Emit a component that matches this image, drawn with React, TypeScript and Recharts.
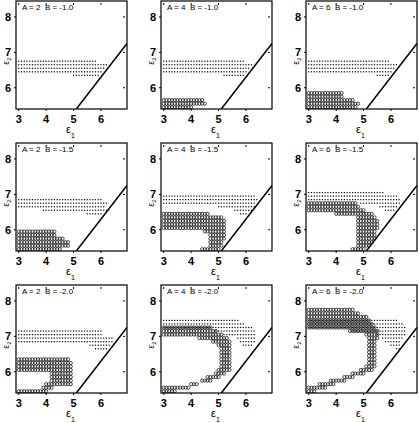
import React from 'react';
import { ScatterChart, Scatter, XAxis, YAxis } from 'recharts';

// tick values and panel parameters
const xTicks = [3, 4, 5, 6];
const yTicks = [6, 7, 8];
const aValues = [2, 4, 6];
const bValues = ['-1.0', '-1.5', '-2.0'];

// boundary line eps2 = eps1 + 0.3
const lineX = [5.1, 6.95];
const lineY = [5.4, 7.25];

// runs on the 0.1 grid: [eps2, first eps1, last eps1]
const dotsA2B10 = [[6.75, 3.0, 5.8], [6.65, 3.0, 6.2], [6.55, 3.0, 6.1], [6.45, 3.0, 6.0], [6.35, 5.0, 5.9]];
const circA2B10: number[][] = [];
const dotsA4B10 = [[6.75, 3.0, 5.9], [6.65, 3.0, 6.2], [6.55, 3.0, 6.1], [6.45, 3.0, 6.0], [6.35, 5.2, 5.9]];
const circA4B10 = [[5.65, 3.0, 4.4], [5.55, 3.0, 4.5], [5.45, 3.0, 4.0]];
const dotsA6B10 = [[6.75, 3.0, 5.9], [6.65, 3.0, 6.2], [6.55, 3.0, 6.1], [6.45, 3.0, 6.0], [6.35, 5.5, 5.9]];
const circA6B10 = [[5.85, 3.0, 4.2], [5.75, 3.0, 4.2], [5.65, 3.0, 4.6], [5.55, 3.0, 4.8], [5.45, 3.0, 4.7]];

const dotsA2B15 = [[6.85, 3.0, 6.0], [6.75, 3.0, 6.2], [6.65, 3.0, 6.1], [6.55, 3.9, 6.2], [6.45, 5.5, 6.0]];
const circA2B15 = [[5.95, 3.0, 4.3], [5.85, 3.0, 4.3], [5.75, 3.0, 4.6], [5.65, 3.0, 4.8], [5.55, 3.0, 4.8], [5.45, 3.0, 4.5]];
const dotsA4B15 = [[6.95, 3.0, 6.3], [6.85, 3.0, 6.4], [6.75, 3.0, 6.3], [6.65, 5.0, 6.3], [6.55, 5.6, 6.2], [6.45, 5.8, 6.0]];
const circA4B15 = [
  [6.45, 3.0, 4.6], [6.35, 3.0, 5.1], [6.25, 3.0, 5.2], [6.15, 3.0, 5.2], [6.05, 3.0, 5.2], [5.95, 4.5, 5.2],
  [5.85, 4.7, 5.2], [5.75, 4.7, 5.2], [5.65, 4.7, 5.1], [5.55, 4.7, 5.1], [5.45, 4.4, 5.0],
];
const dotsA6B15 = [[7.05, 3.0, 5.7], [6.95, 3.0, 6.2], [6.85, 3.0, 6.3], [6.75, 4.9, 6.3], [6.65, 5.6, 6.2], [6.55, 5.8, 6.1]];
const circA6B15 = [
  [6.75, 3.0, 4.7], [6.65, 3.0, 4.8], [6.55, 3.0, 5.0], [6.45, 4.0, 5.3], [6.35, 4.8, 5.4], [6.25, 4.8, 5.5],
  [6.15, 4.8, 5.5], [6.05, 4.8, 5.5], [5.95, 4.8, 5.4], [5.85, 4.8, 5.4], [5.75, 4.8, 5.4], [5.65, 4.8, 5.3],
  [5.55, 4.8, 5.2], [5.45, 4.6, 5.0],
];

const dotsA2B20 = [[7.15, 3.0, 6.0], [7.05, 3.0, 6.0], [6.95, 3.0, 6.4], [6.85, 3.0, 6.4], [6.75, 5.6, 6.3], [6.65, 5.8, 6.2]];
const circA2B20 = [
  [6.35, 3.0, 4.8], [6.25, 3.0, 4.9], [6.15, 3.0, 4.9], [6.05, 3.0, 4.9], [5.95, 4.2, 4.9], [5.85, 4.2, 4.9],
  [5.75, 4.2, 4.9], [5.65, 4.0, 4.9], [5.55, 3.9, 4.2], [5.45, 3.0, 4.0],
];
const dotsA4B20 = [
  [7.45, 3.0, 5.7], [7.35, 3.0, 5.9], [7.25, 3.0, 6.2], [7.15, 4.9, 6.3], [7.05, 5.2, 6.3], [6.95, 5.7, 6.3],
  [6.85, 5.8, 6.3], [6.75, 5.9, 6.2],
];
const circA4B20 = [
  [7.25, 3.0, 4.7], [7.15, 3.0, 4.9], [7.05, 3.0, 5.1], [6.95, 4.3, 5.3], [6.85, 4.8, 5.4], [6.75, 5.0, 5.4],
  [6.65, 5.1, 5.4], [6.55, 5.1, 5.4], [6.45, 5.1, 5.4], [6.35, 5.1, 5.4], [6.25, 5.1, 5.4], [6.15, 5.1, 5.4],
  [6.05, 5.0, 5.4], [5.95, 4.9, 5.2], [5.85, 4.6, 5.0], [5.75, 4.4, 4.7], [5.65, 4.0, 4.2], [5.55, 3.0, 3.9],
  [5.45, 3.0, 3.4],
];
const dotsA6B20 = [
  [7.45, 3.0, 6.2], [7.35, 3.0, 6.4], [7.25, 3.0, 6.5], [7.15, 4.6, 6.5], [7.05, 5.5, 6.5], [6.95, 5.7, 6.4],
  [6.85, 5.8, 6.3], [6.75, 6.0, 6.3], [6.65, 6.2, 6.3],
];
const circA6B20 = [
  [7.75, 3.0, 4.6], [7.65, 3.0, 4.8], [7.55, 3.0, 5.1], [7.45, 3.0, 5.2], [7.35, 3.0, 5.3], [7.25, 3.0, 5.4],
  [7.15, 4.5, 5.5], [7.05, 5.1, 5.5], [6.95, 5.2, 5.5], [6.85, 5.2, 5.4], [6.75, 5.2, 5.4], [6.65, 5.2, 5.4],
  [6.55, 5.2, 5.4], [6.45, 5.2, 5.4], [6.35, 5.2, 5.4], [6.25, 5.2, 5.4], [6.15, 5.1, 5.4], [6.05, 4.9, 5.3],
  [5.95, 4.6, 5.0], [5.85, 4.3, 4.6], [5.75, 3.8, 4.3], [5.65, 3.4, 3.9], [5.55, 3.0, 3.6], [5.45, 3.0, 3.2],
];

const panelDots = [
  [dotsA2B10, dotsA4B10, dotsA6B10],
  [dotsA2B15, dotsA4B15, dotsA6B15],
  [dotsA2B20, dotsA4B20, dotsA6B20],
];
const panelCircles = [
  [circA2B10, circA4B10, circA6B10],
  [circA2B15, circA4B15, circA6B15],
  [circA2B20, circA4B20, circA6B20],
];

const X_DOMAIN = [2.9, 6.95];
const Y_DOMAIN = [5.4, 8.45];
const PLOT_W = 111;
const PLOT_H = 108;
const FONT = "'Liberation Sans', Arial, Helvetica, sans-serif";

const expand = (runs: number[][]) =>
  runs.flatMap(([y, x0, x1]) => {
    const pts: { x: number; y: number }[] = [];
    for (let k = Math.round(x0 * 10); k <= Math.round(x1 * 10); k++) pts.push({ x: k / 10, y });
    return pts;
  });

const linePts = lineX.map((x, i) => ({ x, y: lineY[i] }));

const BottomTick = (props: any) => {
  const { x, y, payload } = props;
  return (
    <g>
      <line x1={x} y1={y} x2={x} y2={y - 2} stroke="#000" />
      <line x1={x} y1={y - PLOT_H} x2={x} y2={y - PLOT_H + 2} stroke="#000" />
      <text x={x} y={y + 12} textAnchor="middle" fontSize={11} fontWeight="bold" fontFamily={FONT} fill="#000">
        {payload.value}
      </text>
    </g>
  );
};

const LeftTick = (props: any) => {
  const { x, y, payload } = props;
  return (
    <g>
      <line x1={x} y1={y} x2={x + 2} y2={y} stroke="#000" />
      <line x1={x + PLOT_W} y1={y} x2={x + PLOT_W - 2} y2={y} stroke="#000" />
      <text x={x - 3} y={y + 4} textAnchor="end" fontSize={11} fontWeight="bold" fontFamily={FONT} fill="#000">
        {payload.value}
      </text>
    </g>
  );
};

const dotShape = (p: any) => <rect x={p.cx - 0.6} y={p.cy - 0.6} width={1.2} height={1.2} fill="#000" />;
const circleShape = (p: any) => <circle cx={p.cx} cy={p.cy} r={1.6} fill="none" stroke="#000" strokeWidth={0.7} />;
const noShape = () => <g />;

const Panel = ({ row, col }: { row: number; col: number }) => {
  const dots = expand(panelDots[row][col]);
  const circles = expand(panelCircles[row][col]);
  const title = `A = ${aValues[col]}  B = ${bValues[row]}`;
  return (
    <div style={{ position: 'absolute', left: col * 145, top: row * 142 }}>
      <ScatterChart width={129} height={143} margin={{ top: 1, right: 2, bottom: 0, left: 0 }}>
        <XAxis
          type="number"
          dataKey="x"
          domain={X_DOMAIN}
          allowDataOverflow
          ticks={xTicks}
          interval={0}
          tickSize={0}
          tickLine={false}
          axisLine={false}
          height={34}
          tick={<BottomTick />}
          label={{
            content: ({ viewBox }: any) => (
              <text x={viewBox.x + 50} y={viewBox.y + 24} fontSize={11} fontFamily={FONT} fill="#000">
                ε<tspan fontSize={7} dy={5}>1</tspan>
              </text>
            ),
          }}
        />
        <YAxis
          type="number"
          dataKey="y"
          domain={Y_DOMAIN}
          allowDataOverflow
          ticks={yTicks}
          interval={0}
          tickSize={0}
          tickLine={false}
          axisLine={false}
          width={16}
          tick={<LeftTick />}
          label={{
            content: ({ viewBox }: any) => {
              const px = viewBox.x + viewBox.width;
              const lx = px - 7.5;
              const ly = viewBox.y + 60;
              return (
                <g>
                  <rect x={px} y={viewBox.y} width={PLOT_W} height={viewBox.height} fill="none" stroke="#000" strokeWidth={1.2} />
                  <text
                    x={lx}
                    y={ly}
                    transform={`rotate(-90 ${lx} ${ly})`}
                    textAnchor="middle"
                    fontSize={9}
                    fontFamily={FONT}
                    fill="#000"
                  >
                    ε<tspan fontSize={6} dy={2.5}>2</tspan>
                  </text>
                  <text x={px + 6} y={viewBox.y + 8.5} fontSize={8} fontFamily={FONT} fill="#000" style={{ whiteSpace: 'pre' }}>
                    {title}
                  </text>
                </g>
              );
            },
          }}
        />
        <Scatter data={dots} shape={dotShape} isAnimationActive={false} />
        <Scatter data={circles} shape={circleShape} isAnimationActive={false} />
        <Scatter
          data={linePts}
          shape={noShape}
          line={{ stroke: '#000', strokeWidth: 1.5 }}
          isAnimationActive={false}
        />
      </ScatterChart>
    </div>
  );
};

export default function App() {
  const cells = [];
  for (let r = 0; r < 3; r++) for (let c = 0; c < 3; c++) cells.push(<Panel key={`${r}-${c}`} row={r} col={c} />);
  return (
    <div
      style={{
        position: 'absolute',
        left: 0,
        top: 0,
        width: 419,
        height: 423,
        overflow: 'hidden',
        background: '#fff',
      }}
    >
      {cells}
    </div>
  );
}
